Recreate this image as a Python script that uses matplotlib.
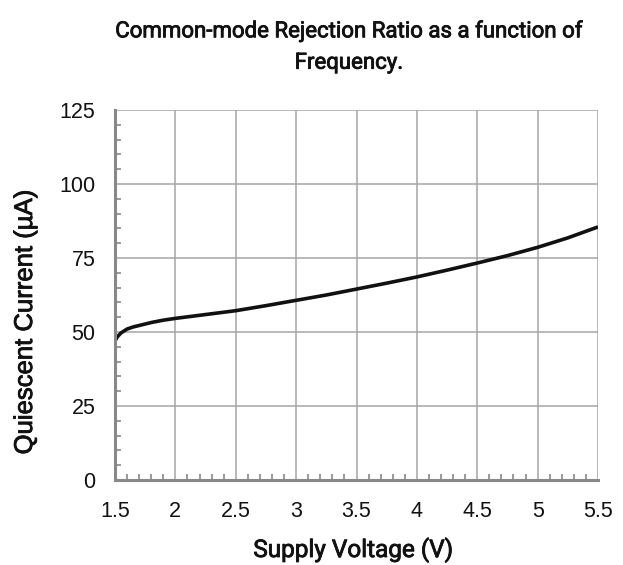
import matplotlib
matplotlib.use("Agg")
import matplotlib.pyplot as plt
import matplotlib.patheffects as pe
from matplotlib.ticker import MultipleLocator
import numpy as np

# supply voltage (V) and quiescent current (uA)
voltage = [1.5, 1.52, 1.55, 1.6, 1.65, 1.7, 1.8, 1.9, 2.0, 2.25, 2.5, 2.75, 3.0, 3.25, 3.5,
           3.75, 4.0, 4.25, 4.5, 4.75, 5.0, 5.25, 5.5]
current = [47.0, 48.4, 49.7, 51.0, 51.7, 52.2, 53.2, 54.0, 54.6, 55.9, 57.2, 58.9, 60.7, 62.5, 64.5,
           66.5, 68.6, 70.9, 73.3, 75.8, 78.6, 81.8, 85.5]

x_ticks = [1.5, 2, 2.5, 3, 3.5, 4, 4.5, 5, 5.5]
x_labels = ["1.5", "2", "2.5", "3", "3.5", "4", "4.5", "5", "5.5"]
y_ticks = [0, 25, 50, 75, 100, 125]

title = "Common-mode Rejection Ratio as a function of\nFrequency."
x_title = "Supply Voltage (V)"
y_title = "Quiescent Current (\u00b5A)"

label_font = ["Roboto", "DejaVu Sans"]
tick_font = ["Liberation Sans", "DejaVu Sans"]
heavier = [pe.withStroke(linewidth=0.6, foreground="#111111")]

W, H = 623, 565
fig = plt.figure(figsize=(W / 100, H / 100), dpi=100)
ax = fig.add_axes([115 / W, 1 - 480 / H, 483 / W, 370 / H])

ax.plot(voltage, current, color="#111111", lw=2.6, solid_capstyle="butt")

ax.set_xlim(1.5, 5.5)
ax.set_ylim(0, 125)
ax.set_xticks(x_ticks)
ax.set_xticklabels(x_labels)
ax.set_yticks(y_ticks)
ax.xaxis.set_minor_locator(MultipleLocator(0.1))
ax.yaxis.set_minor_locator(MultipleLocator(5))

ax.grid(True, which="major", color="#a6a6a6", lw=1.1)
ax.set_axisbelow(True)

for s in ["top", "right"]:
    ax.spines[s].set_visible(False)
for s in ["left", "bottom"]:
    ax.spines[s].set_color("#888888")
    ax.spines[s].set_linewidth(2.2)

ax.tick_params(which="major", length=0, labelsize=15.5, colors="#111111")
ax.tick_params(axis="x", which="major", pad=15)
ax.tick_params(axis="y", which="major", pad=14)
ax.tick_params(which="minor", direction="in", length=4, width=1.2, color="#888888")
for lab in ax.get_xticklabels() + ax.get_yticklabels():
    lab.set_fontfamily(tick_font)

# axis titles placed in figure pixels
fig.text(353 / W, 1 - 557 / H, x_title, ha="center", va="baseline",
         fontsize=17.5, family=label_font, color="#111111", path_effects=heavier)
fig.text(25 / W, 1 - 322 / H, y_title, ha="center", va="center", rotation=90,
         fontsize=18.5, family=tick_font, color="#111111", path_effects=heavier)

fig.text(349 / W, 1 - 47 / H, title, ha="center", va="center", fontsize=16,
         family=label_font, linespacing=1.65, color="#111111", path_effects=heavier)

fig.savefig("out.png", dpi=100)
